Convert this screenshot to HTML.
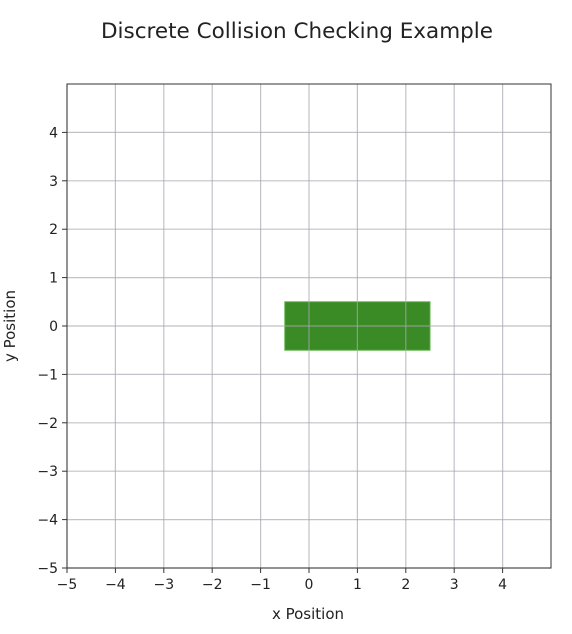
<!DOCTYPE html>
<html><head><meta charset="utf-8"><style>
body{margin:0;background:#fff;}
svg{display:block;font-family:"DejaVu Sans","Liberation Sans",sans-serif;}
</style></head><body>
<svg id="chart" width="572" height="634" viewBox="0 0 572 634">
<text x="297" y="38" text-anchor="middle" font-size="21.5" fill="#222">Discrete Collision Checking Example</text>
<g id="plot"></g>
<text x="308" y="619" text-anchor="middle" font-size="15" fill="#222">x Position</text>
<text transform="translate(15,326) rotate(-90)" text-anchor="middle" font-size="15" fill="#222">y Position</text>
</svg>
<script>
const xTicks=[-5,-4,-3,-2,-1,0,1,2,3,4];
const yTicks=[-5,-4,-3,-2,-1,0,1,2,3,4];
const rectX=[-0.5,2.5];
const rectY=[-0.5,0.5];
const L=67,R=551,T=84,B=568;
const sx=v=>L+(v+5)/10*(R-L);
const sy=v=>B-(v+5)/10*(B-T);
const NS='http://www.w3.org/2000/svg';
const g=document.getElementById('plot');
function mk(t,a){const e=document.createElementNS(NS,t);for(const k in a)e.setAttribute(k,a[k]);g.appendChild(e);return e;}
const r=mk('rect',{x:sx(rectX[0]),y:sy(rectY[1]),width:sx(rectX[1])-sx(rectX[0]),height:sy(rectY[0])-sy(rectY[1]),fill:'#3a8a25',stroke:'#5bb045','stroke-width':1});


xTicks.forEach(v=>{
 const l=mk('line',{x1:sx(v),x2:sx(v),y1:T,y2:B,stroke:'#a8a8b0','stroke-opacity':0.7,'stroke-width':1.2});
 
 
 mk('line',{x1:sx(v),x2:sx(v),y1:B,y2:B+5,stroke:'#333'});
 const t=mk('text',{x:sx(v),y:B+21,'text-anchor':'middle','font-size':14,fill:'#222'});
 t.textContent=v<0?'\u2212'+(-v):v;
 
 
});
yTicks.forEach(v=>{
 const l=mk('line',{x1:L,x2:R,y1:sy(v),y2:sy(v),stroke:'#a8a8b0','stroke-opacity':0.7,'stroke-width':1.2});
 
 
 mk('line',{x1:L-5,x2:L,y1:sy(v),y2:sy(v),stroke:'#333'});
 const t=mk('text',{x:L-9,y:sy(v)+5,'text-anchor':'end','font-size':14,fill:'#222'});
 t.textContent=v<0?'\u2212'+(-v):v;
 
 
});
const f=mk('rect',{x:L,y:T,width:R-L,height:B-T,fill:'none',stroke:'#333','stroke-width':1});


</script>
</body></html>
